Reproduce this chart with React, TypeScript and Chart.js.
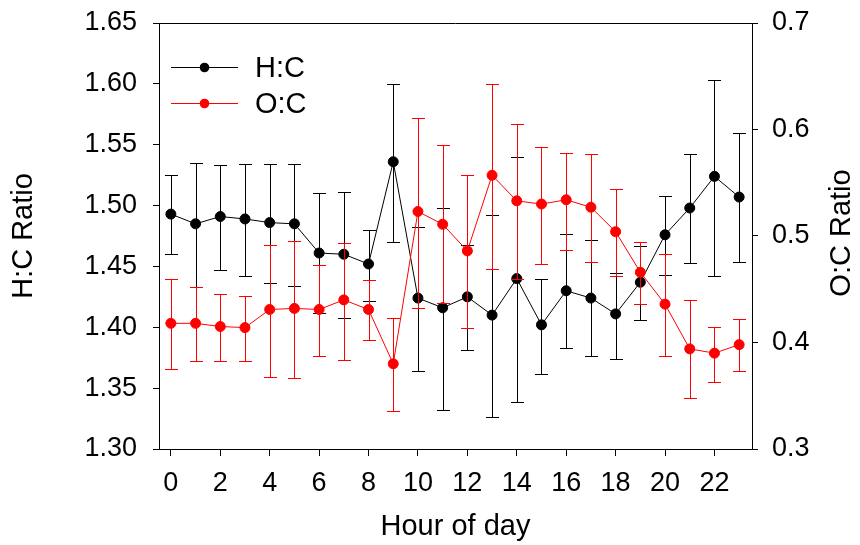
import { useEffect, useRef } from "react";
import { Chart, registerables } from "chart.js";

Chart.register(...registerables);

// ---- data ----
const hours = [0, 1, 2, 3, 4, 5, 6, 7, 8, 9, 10, 11, 12, 13, 14, 15, 16, 17, 18, 19, 20, 21, 22, 23];
const xTickLabels = [0, 2, 4, 6, 8, 10, 12, 14, 16, 18, 20, 22];
const leftTicks = [1.3, 1.35, 1.4, 1.45, 1.5, 1.55, 1.6, 1.65];
const rightTicks = [0.3, 0.4, 0.5, 0.6, 0.7];

const hcMean = [1.493, 1.485, 1.491, 1.489, 1.486, 1.485, 1.461, 1.46, 1.452, 1.536, 1.424, 1.416, 1.425, 1.41, 1.44, 1.402, 1.43, 1.424, 1.411, 1.437, 1.476, 1.498, 1.524, 1.507];
const hcUpper = [1.525, 1.535, 1.533, 1.534, 1.534, 1.534, 1.51, 1.511, 1.48, 1.6, 1.482, 1.498, 1.468, 1.492, 1.54, 1.44, 1.477, 1.472, 1.445, 1.467, 1.508, 1.542, 1.603, 1.56];
const hcLower = [1.46, 1.433, 1.447, 1.442, 1.436, 1.434, 1.412, 1.408, 1.422, 1.47, 1.364, 1.332, 1.381, 1.326, 1.339, 1.362, 1.383, 1.376, 1.374, 1.406, 1.443, 1.453, 1.442, 1.454];

const ocMean = [0.418, 0.418, 0.415, 0.414, 0.431, 0.432, 0.431, 0.44, 0.431, 0.38, 0.523, 0.511, 0.486, 0.557, 0.533, 0.53, 0.534, 0.527, 0.504, 0.466, 0.436, 0.394, 0.39, 0.398];
const ocUpper = [0.46, 0.452, 0.446, 0.444, 0.492, 0.495, 0.473, 0.493, 0.459, 0.423, 0.611, 0.585, 0.557, 0.643, 0.605, 0.584, 0.578, 0.577, 0.544, 0.494, 0.483, 0.44, 0.415, 0.422];
const ocLower = [0.375, 0.383, 0.383, 0.383, 0.368, 0.367, 0.387, 0.384, 0.402, 0.336, 0.432, 0.437, 0.414, 0.469, 0.46, 0.474, 0.487, 0.476, 0.462, 0.436, 0.387, 0.348, 0.363, 0.373];

const seriesNames = ["H:C", "O:C"];
const axisTitles = { left: "H:C Ratio", right: "O:C Ratio", bottom: "Hour of day" };

const FONT = "'Liberation Sans', Arial, sans-serif";
const BLACK = "#000000";
const RED = "#ff0000";

const errorSets = [
  { upper: hcUpper, lower: hcLower },
  { upper: ocUpper, lower: ocLower },
];

export default function App() {
  const ref = useRef<HTMLCanvasElement>(null);

  useEffect(() => {
    document.body.style.margin = "0";
    const canvas = ref.current;
    if (!canvas) return;

    const errorBars = {
      id: "errorBars",
      beforeDatasetDraw(chart: any, args: any) {
        const idx = args.index;
        const ds = chart.data.datasets[idx];
        const err = errorSets[idx];
        const xs = chart.scales.x;
        const ys = chart.scales[args.meta.yAxisID];
        const ctx = chart.ctx;
        ctx.save();
        ctx.strokeStyle = ds.borderColor;
        ctx.lineWidth = 1;
        const cap = 6.5;
        hours.forEach((h, i) => {
          const x = Math.round(xs.getPixelForValue(h)) + 0.5;
          const yu = Math.round(ys.getPixelForValue(err.upper[i])) + 0.5;
          const yl = Math.round(ys.getPixelForValue(err.lower[i])) + 0.5;
          ctx.beginPath();
          ctx.moveTo(x, yu);
          ctx.lineTo(x, yl);
          ctx.moveTo(x - cap, yu);
          ctx.lineTo(x + cap, yu);
          ctx.moveTo(x - cap, yl);
          ctx.lineTo(x + cap, yl);
          ctx.stroke();
        });
        ctx.restore();
      },
    };

    const decorations = {
      id: "decorations",
      afterDraw(chart: any) {
        const ctx = chart.ctx;
        const ys = chart.scales.y;
        const ys2 = chart.scales.y2;
        const top = ys.top;
        const bottom = ys.bottom;
        const left = ys.right;
        const right = ys2.left;
        ctx.save();
        // top frame line
        ctx.strokeStyle = BLACK;
        ctx.lineWidth = 1;
        ctx.beginPath();
        ctx.moveTo(left, Math.round(top) + 0.5);
        ctx.lineTo(right, Math.round(top) + 0.5);
        ctx.stroke();

        // legend
        const colors = [BLACK, RED];
        const lx0 = left + 12;
        const lx1 = left + 79;
        const ly = [top + 44, top + 80];
        seriesNames.forEach((name, i) => {
          const y = Math.round(ly[i]) + 0.5;
          ctx.strokeStyle = colors[i];
          ctx.lineWidth = 1;
          ctx.beginPath();
          ctx.moveTo(lx0, y);
          ctx.lineTo(lx1, y);
          ctx.stroke();
          ctx.fillStyle = colors[i];
          ctx.beginPath();
          ctx.arc((lx0 + lx1) / 2, y, 4.8, 0, Math.PI * 2);
          ctx.fill();
          ctx.fillStyle = BLACK;
          ctx.font = `29px ${FONT}`;
          ctx.textAlign = "left";
          ctx.textBaseline = "middle";
          ctx.fillText(name, left + 96, y + 1);
        });

        // axis titles
        ctx.fillStyle = BLACK;
        ctx.font = `29px ${FONT}`;
        ctx.textAlign = "center";
        ctx.textBaseline = "middle";
        ctx.save();
        ctx.translate(24, (top + bottom) / 2);
        ctx.rotate(-Math.PI / 2);
        ctx.fillText(axisTitles.left, 0, 0);
        ctx.restore();
        ctx.save();
        ctx.translate(842, (top + bottom) / 2 - 3);
        ctx.rotate(-Math.PI / 2);
        ctx.fillText(axisTitles.right, 0, 0);
        ctx.restore();
        ctx.fillText(axisTitles.bottom, (left + right) / 2, 527);
        ctx.restore();
      },
    };

    const noPadY = (w: number) => (s: any) => {
      s.width = w;
      s.paddingTop = 0;
      s.paddingBottom = 0;
    };

    const chart = new Chart(canvas, {
      type: "line",
      data: {
        datasets: [
          {
            label: seriesNames[0],
            data: hours.map((h, i) => ({ x: h, y: hcMean[i] })),
            yAxisID: "y",
            borderColor: BLACK,
            backgroundColor: BLACK,
            borderWidth: 1,
            pointRadius: 5,
            pointBorderWidth: 1,
            pointBackgroundColor: BLACK,
            pointBorderColor: BLACK,
            tension: 0,
            order: 1,
          },
          {
            label: seriesNames[1],
            data: hours.map((h, i) => ({ x: h, y: ocMean[i] })),
            yAxisID: "y2",
            borderColor: RED,
            backgroundColor: RED,
            borderWidth: 1,
            pointRadius: 5,
            pointBorderWidth: 1,
            pointBackgroundColor: RED,
            pointBorderColor: RED,
            tension: 0,
            order: 0,
          },
        ],
      },
      options: {
        animation: false,
        responsive: false,
        maintainAspectRatio: false,
        layout: { padding: { top: 23, left: 0, right: 0, bottom: 0 } },
        plugins: {
          legend: { display: false },
          tooltip: { enabled: false },
        },
        scales: {
          x: {
            type: "linear",
            min: -0.48,
            max: 23.52,
            afterBuildTicks: (s: any) => {
              s.ticks = xTickLabels.map((v) => ({ value: v }));
            },
            afterFit: (s: any) => {
              s.height = 96;
              s.paddingLeft = 0;
              s.paddingRight = 0;
            },
            grid: { drawOnChartArea: false, drawTicks: true, tickLength: 7, color: BLACK },
            border: { color: BLACK, width: 1 },
            ticks: {
              color: BLACK,
              font: { family: FONT, size: 27 },
              padding: 11,
              maxRotation: 0,
              autoSkip: false,
              callback: (v: any) => String(v),
            },
          },
          y: {
            type: "linear",
            position: "left",
            min: 1.3,
            max: 1.65,
            afterBuildTicks: (s: any) => {
              s.ticks = leftTicks.map((v) => ({ value: v }));
            },
            afterFit: noPadY(159),
            grid: { drawOnChartArea: false, drawTicks: true, tickLength: 6, color: BLACK },
            border: { color: BLACK, width: 1 },
            ticks: {
              color: BLACK,
              font: { family: FONT, size: 27 },
              padding: 16,
              autoSkip: false,
              callback: (v: any) => Number(v).toFixed(2),
            },
          },
          y2: {
            type: "linear",
            position: "right",
            min: 0.3,
            max: 0.7,
            afterBuildTicks: (s: any) => {
              s.ticks = rightTicks.map((v) => ({ value: v }));
            },
            afterFit: noPadY(108),
            grid: { drawOnChartArea: false, drawTicks: true, tickLength: 6, color: BLACK },
            border: { color: BLACK, width: 1 },
            ticks: {
              color: BLACK,
              font: { family: FONT, size: 27 },
              padding: 14,
              autoSkip: false,
              callback: (v: any) => Number(v).toFixed(1),
            },
          },
        },
      },
      plugins: [errorBars, decorations],
    });

    return () => chart.destroy();
  }, []);

  return (
    <div style={{ width: 860, height: 545 }}>
      <canvas ref={ref} width={860} height={545} style={{ display: "block", width: 860, height: 545 }} />
    </div>
  );
}
